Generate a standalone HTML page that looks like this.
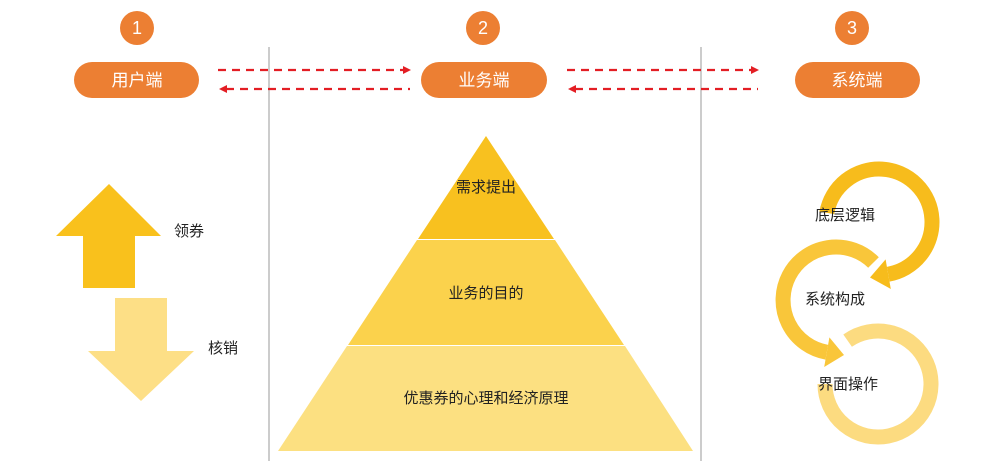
<!DOCTYPE html>
<html><head><meta charset="utf-8"><style>
html,body{margin:0;padding:0;background:#fff;width:1000px;height:471px;overflow:hidden}
svg{display:block}
text{font-family:"Liberation Sans","Noto Sans CJK SC",sans-serif}
</style></head><body>
<svg width="1000" height="471" viewBox="0 0 1000 471">
<line x1="269" y1="47" x2="269" y2="461" stroke="#aaa" stroke-width="1.2"/>
<line x1="701" y1="47" x2="701" y2="461" stroke="#aaa" stroke-width="1.2"/>
<g fill="#ec7f33">
<circle cx="137" cy="28" r="17"/><circle cx="483" cy="28" r="17"/><circle cx="852" cy="28" r="17"/>
<rect x="74" y="62" width="125" height="36" rx="18"/>
<rect x="421" y="62" width="126" height="36" rx="18"/>
<rect x="795" y="62" width="125" height="36" rx="18"/>
</g>
<g fill="#fff" font-size="18" text-anchor="middle">
<text x="137" y="34">1</text><text x="483" y="34">2</text><text x="852" y="34">3</text>
<text x="137" y="86" font-size="17">用户端</text><text x="484" y="86" font-size="17">业务端</text><text x="857" y="86" font-size="17">系统端</text>
</g>
<g stroke="#e31e24" stroke-width="2.2" stroke-dasharray="8,6" fill="none">
<line x1="218" y1="70" x2="404" y2="70"/><line x1="226" y1="89" x2="410" y2="89"/>
<line x1="567" y1="70" x2="752" y2="70"/><line x1="575" y1="89" x2="758" y2="89"/>
</g>
<g fill="#e31e24">
<polygon points="411,70 403,66 403,74"/><polygon points="219,89 227,85 227,93"/>
<polygon points="759,70 751,66 751,74"/><polygon points="568,89 576,85 576,93"/>
</g>
<polygon points="109,184 161,236 135,236 135,288 83,288 83,236 56,236" fill="#f9c11c"/>
<polygon points="115,298 167,298 167,351 194,351 141,401 88,351 115,351" fill="#fddf86"/>
<g font-size="15" fill="#222">
<text x="174" y="236">领券</text><text x="208" y="353">核销</text>
</g>
<polygon points="486,136 418,239 554,239" fill="#f8c11f"/>
<polygon points="417,240 555,240 624,345 348,345" fill="#fbd24c"/>
<polygon points="347,346 625,346 693,451 278,451" fill="#fce081"/>
<g font-size="15" fill="#222" text-anchor="middle">
<text x="486" y="192">需求提出</text><text x="486" y="298">业务的目的</text><text x="486" y="403">优惠券的心理和经济原理</text>
</g>
<g fill="none" stroke-width="15">
<path d="M847.6,340.6 A53,53 0 1 1 825,384" stroke="#fcdb80"/>
<path d="M873.5,262.5 A53,53 0 1 0 826.8,352.2" stroke="#f9c63a"/>
<path d="M826.8,212.8 A53,53 0 1 1 888.2,274.2" stroke="#f7bc1c"/>
</g>
<polygon points="890.8,289 885.6,259.4 870,277.5" fill="#f7bc1c"/>
<polygon points="824.2,367 829.4,337.4 844,355" fill="#f9c63a"/>
<g font-size="15" fill="#222">
<text x="815" y="220">底层逻辑</text><text x="805" y="304">系统构成</text><text x="818" y="389">界面操作</text>
</g>
</svg>
</body></html>
